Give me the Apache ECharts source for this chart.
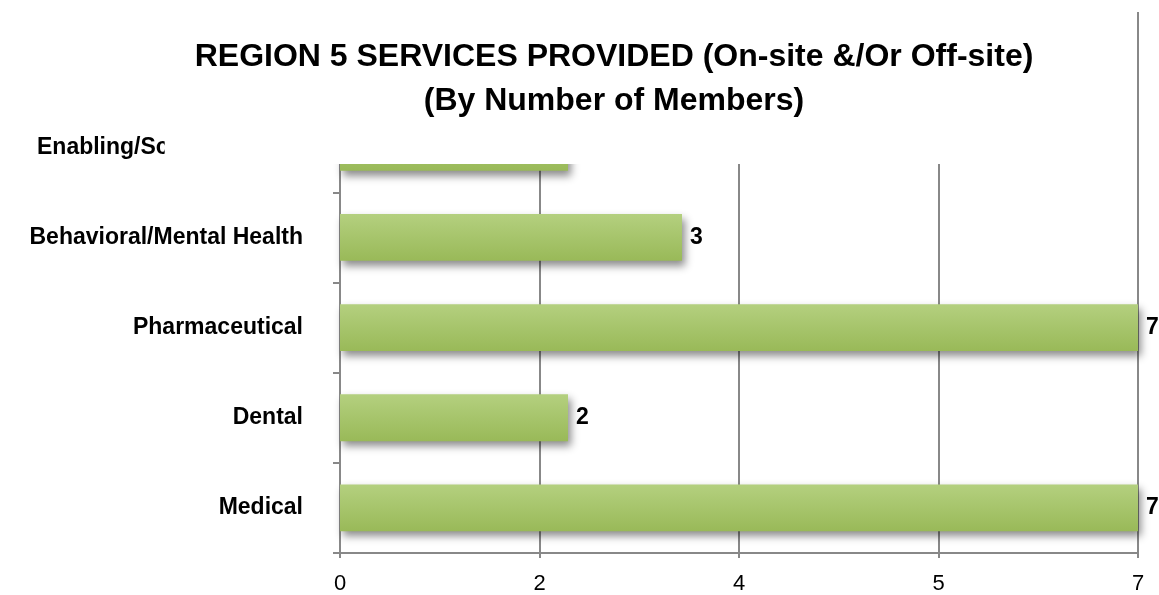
<!DOCTYPE html>
<html>
<head>
<meta charset="utf-8">
<title>Region 5 Services Provided</title>
<script src="https://cdn.jsdelivr.net/npm/echarts@6/dist/echarts.min.js"></script>
<style>
    html, body { margin: 0; padding: 0; background: #fff; }
    #chart { width: 1159px; height: 595px; }
</style>
</head>
<body>
<div id="chart"></div>
<script>
// categories bottom -> top; the top one sits under the title box in the original
var categories = ['Medical', 'Dental', 'Pharmaceutical', 'Behavioral/Mental Health', 'Enabling/Sc', ''];
var members = [7, 2, 7, 3, 2, null];
// the x tick labels as printed (rounded from 0, 1.75, 3.5, 5.25, 7)
var xTickLabels = ['0', '2', '4', '5', '7'];

var font = 'Liberation Sans';
var gridGrey = '#888888';

var myChart = echarts.init(document.getElementById('chart'));

var option = {
    backgroundColor: '#fff',
    title: {
        text: 'REGION 5 SERVICES PROVIDED (On-site &/Or Off-site)\n(By Number of Members)',
        left: 584,
        top: 8,
        textAlign: 'center',
        textVerticalAlign: 'top',
        padding: [27, 30, 41, 30],
        backgroundColor: '#fff',
        textStyle: {
            fontFamily: font,
            fontSize: 32,
            fontWeight: 'bold',
            color: '#000',
            lineHeight: 44
        }
    },
    grid: {
        left: 340,
        right: 21,
        top: 12,
        bottom: 40,
        containLabel: false
    },
    xAxis: {
        type: 'value',
        min: 0,
        max: 7,
        interval: 1.75,
        axisLine: { show: true, lineStyle: { color: gridGrey, width: 2 } },
        axisTick: { show: true, length: 5, lineStyle: { color: gridGrey, width: 2 } },
        splitLine: { show: true, lineStyle: { color: gridGrey, width: 2 } },
        axisLabel: {
            margin: 20,
            fontFamily: font,
            fontSize: 22,
            color: '#000',
            formatter: function (value, index) {
                return xTickLabels[index];
            }
        }
    },
    yAxis: {
        type: 'category',
        data: categories,
        axisLine: { show: true, lineStyle: { color: gridGrey, width: 2 } },
        axisTick: { show: true, length: 7, lineStyle: { color: gridGrey, width: 2 } },
        splitLine: { show: false },
        axisLabel: {
            margin: 37,
            fontFamily: font,
            fontSize: 23,
            fontWeight: 'bold',
            color: '#000',
            formatter: function (value) {
                // this one overflowed in the original and hangs left
                if (value === 'Enabling/Sc') {
                    return '{cut|' + value + '}';
                }
                return value;
            },
            rich: {
                cut: {
                    width: 266,
                    align: 'left',
                    fontFamily: font,
                    fontSize: 23,
                    fontWeight: 'bold',
                    color: '#000'
                }
            }
        }
    },
    series: [{
        type: 'bar',
        data: members,
        barWidth: '52%',
        itemStyle: {
            color: new echarts.graphic.LinearGradient(0, 0, 0, 1, [
                { offset: 0, color: '#b4d07f' },
                { offset: 1, color: '#99b958' }
            ]),
            shadowColor: 'rgba(0,0,0,0.45)',
            shadowBlur: 8,
            shadowOffsetX: 3,
            shadowOffsetY: 5
        },
        label: {
            show: true,
            position: 'right',
            distance: 8,
            fontFamily: font,
            fontSize: 23,
            fontWeight: 'bold',
            color: '#000'
        }
    }]
};

myChart.setOption(option);
</script>
</body>
</html>
